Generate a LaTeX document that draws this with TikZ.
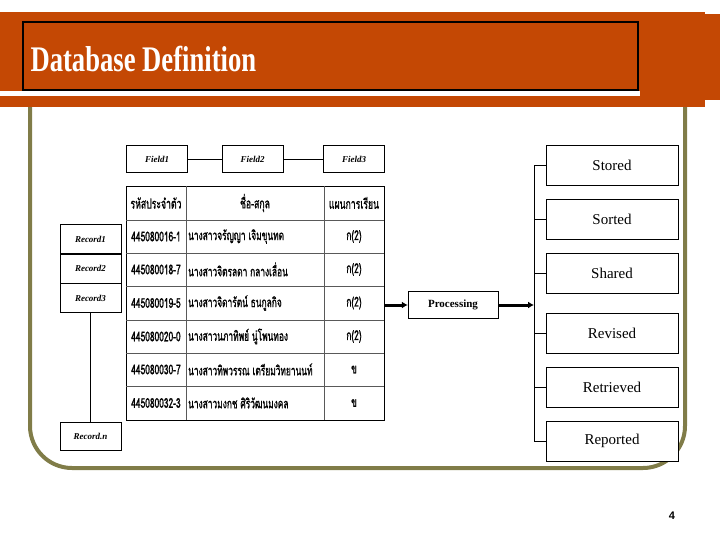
\documentclass[tikz,border=0pt]{standalone}
\usepackage{fontspec}
\setmainfont{Liberation Serif}
\newfontfamily\thaifont[Script=Thai,FakeStretch=0.62,FakeBold=1]{Loma}
\newfontfamily\titlefont[FakeStretch=0.74]{Liberation Serif}
\newfontfamily\numfont{Liberation Sans}
\usetikzlibrary{arrows.meta}
\definecolor{band}{RGB}{196,72,4}
\definecolor{olive}{RGB}{128,124,72}
\tikzset{
 lbl/.style={draw,thin,fill=white,minimum width=132pt,minimum height=40pt,font=\fontsize{15}{15}\selectfont},
 fld/.style={draw,thin,fill=white,minimum width=61pt,minimum height=27pt,font=\fontsize{9}{9}\selectfont\bfseries\itshape},
 rec/.style={draw,thin,fill=white,minimum width=61pt,minimum height=29pt,font=\fontsize{9}{9}\selectfont\bfseries\itshape},
 cell/.style={font=\thaifont\fontsize{13.5}{13.5}\selectfont},
 thick arrow/.style={line width=3pt,-{Latex[length=6pt,width=7pt]}}
}
\begin{document}
\begin{tikzpicture}[x=1pt,y=-1pt]
\useasboundingbox (0,0) rectangle (720,540);
% frame
\draw[olive,line width=4pt,rounded corners=42pt] (30,95) -- (30,468) -- (685,468) -- (685,95);
% band
\fill[band] (0,12) rectangle (705,107);
\fill[band] (705,14) rectangle (720,100);
\fill[white] (0,91) rectangle (640,96);
\draw[line width=2.2pt] (23,22) rectangle (638,90);
\node[anchor=west,text=white,font=\titlefont\bfseries\fontsize{36}{36}\selectfont] (title) at (27,59) {Database Definition};
% fields
\node[fld] (f1) at (157,159) {Field1};
\node[fld] (f2) at (252.5,159) {Field2};
\node[fld] (f3) at (354,159) {Field3};
\draw (f1) -- (f2); \draw (f2) -- (f3);
% table
\draw[line width=0.8pt] (126,186) rectangle (384,420);
\foreach \y in {220,253,286,320,353,386} \draw[line width=0.8pt,gray!70!black] (126,\y) -- (384,\y);
\draw[line width=0.8pt,gray!70!black] (186,186) -- (186,420);
\draw[line width=0.8pt,gray!70!black] (324,186) -- (324,420);
\node[cell,font=\thaifont\fontsize{14}{14}\selectfont] (h1) at (156,203) {รหัสประจำตัว};
\node[cell,font=\thaifont\fontsize{14}{14}\selectfont] (h2) at (255,203) {ชื่อ-สกุล};
\node[cell,font=\thaifont\fontsize{14}{14}\selectfont] (h3) at (354,203) {แผนการเรียน};
\foreach \y/\id/\nm/\pl in {236.5/445080016-1/นางสาวจรัญญา เจิมขุนทด/ก(2),
 269.5/445080018-7/นางสาวจิตรลดา กลางเลื่อน/ก(2),
 303/445080019-5/นางสาวจิดารัตน์ ธนกูลกิจ/ก(2),
 336.5/445080020-0/นางสาวนภาทิพย์ นู่โพนทอง/ก(2),
 369.5/445080030-7/นางสาวทิพวรรณ เตรียมวิทยานนท์/ข,
 403/445080032-3/นางสาวมงกช ศิริวัฒนมงคล/ข}{
 \node[cell] at (156,\y) {\id};
 \node[cell,anchor=west,inner sep=2pt] at (186,\y) {\nm};
 \node[cell] at (354,\y) {\pl};
}
\coordinate (tr) at (384,305);
% records
\node[rec] (r1) at (90.5,239) {Record1};
\node[rec] (r2) at (90.5,268.5) {Record2};
\node[rec] (r3) at (90.5,298) {Record3};
\node[rec,minimum height=28pt] (rn) at (90.5,436) {Record.n};
\draw (r3) -- (rn);
% processing
\node[draw,thin,fill=white,minimum width=90pt,minimum height=27pt,font=\fontsize{11}{11}\selectfont\bfseries] (proc) at (453,305) {Processing};
\draw[thick arrow] (tr) -- (proc.west);
\coordinate (br) at (534,305);
\draw[thick arrow] (proc.east) -- (br);
% outputs
\node[lbl] (o1) at (612,165) {Stored};
\node[lbl] (o2) at (612,219) {Sorted};
\node[lbl] (o3) at (612,273) {Shared};
\node[lbl] (o4) at (612,333) {Revised};
\node[lbl] (o5) at (612,387) {Retrieved};
\node[lbl] (o6) at (612,441) {Reported};
\draw (o1.west) -- (534,165) -- (534,441) -- (o6.west);
\foreach \o in {o2,o3,o4,o5} \draw (\o.west) -- (534,0 |- \o.west);
\node[font=\numfont\bfseries\fontsize{11}{11}\selectfont] (pg) at (672,516) {4};
\end{tikzpicture}
\end{document}
